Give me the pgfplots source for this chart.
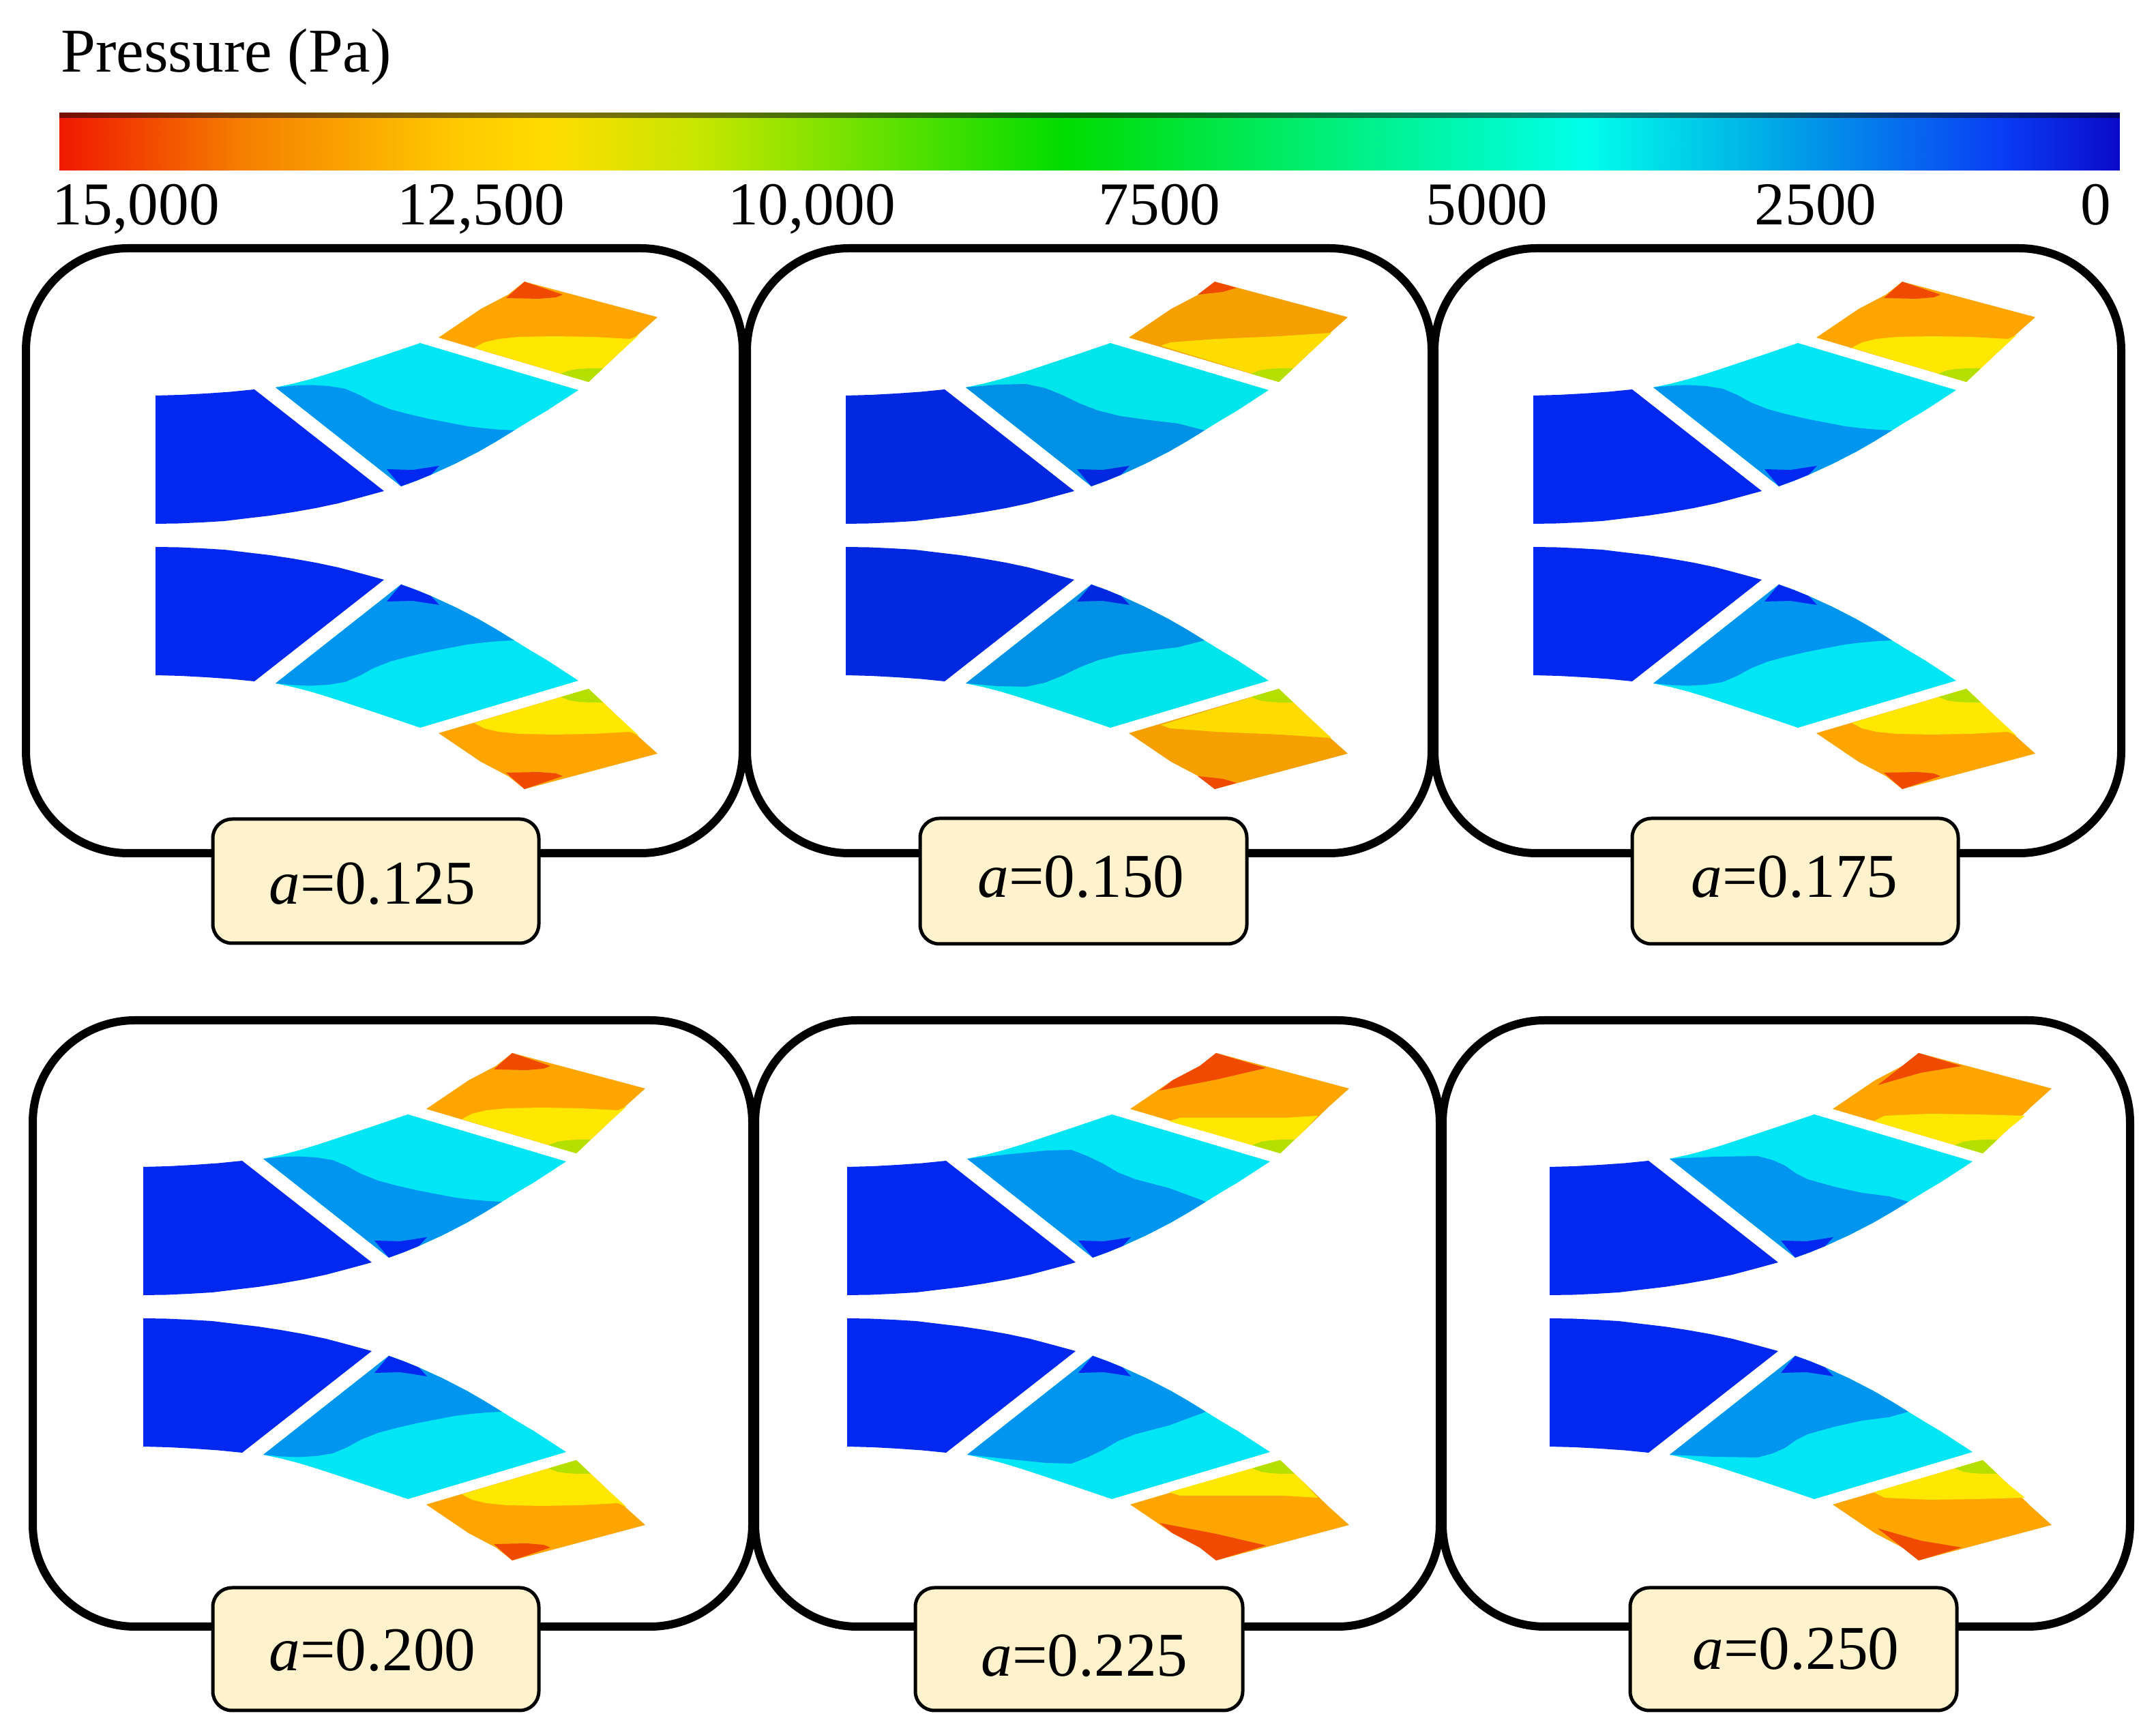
\documentclass[border=0pt]{standalone}
\usepackage{pgfplots}
\usepackage{pgfplotstable}
\usepackage{fontspec}
\setmainfont{Liberation Serif}
\pgfplotsset{compat=1.18}

\definecolor{cblueA}{RGB}{0,40,240}
\definecolor{cmidA}{RGB}{0,150,240}
\definecolor{ccyanA}{RGB}{0,230,245}
\definecolor{corangeA}{RGB}{255,165,0}
\definecolor{cyellowA}{RGB}{255,232,0}
\definecolor{cblueB}{RGB}{0,40,224}
\definecolor{cmidB}{RGB}{0,144,230}
\definecolor{ccyanB}{RGB}{0,229,235}
\definecolor{corangeB}{RGB}{245,160,0}
\definecolor{cyellowB}{RGB}{255,220,0}
\colorlet{cblueC}{cblueA}\colorlet{cmidC}{cmidA}\colorlet{ccyanC}{ccyanA}\colorlet{corangeC}{corangeA}\colorlet{cyellowC}{cyellowA}
\colorlet{cblueD}{cblueA}\colorlet{cmidD}{cmidA}\colorlet{ccyanD}{ccyanA}\colorlet{corangeD}{corangeA}\colorlet{cyellowD}{cyellowA}
\definecolor{cgreen}{RGB}{180,224,0}
\definecolor{cred}{RGB}{240,74,0}
\definecolor{lab}{RGB}{255,242,204}

% outline of the top half of a panel, in image pixels
\pgfplotstableread{
x y
228 580
265 579
302 577
338 574.5
373 571
563 720
530 729
496 738
463 745
429 751
396 756
362 760
329 764
295 766
262 767.5
228 768
}\tblInlet
\pgfplotstableread{
x y
404 568
430 562.5
455 556
480 548.5
506 540
533 531
560 522
588 512.5
616 503
848 572
825 587
802 602
775 618
754 631
728 647
702 662
667 680
632 696
610 705
588 713
}\tblMidCyan
\pgfplotstableread{
x y
567 688
605 689
644 683
632 696
610 705
588 713
}\tblMidTip
\pgfplotstableread{
x y
643 495
674 474
705 453
745 432
769 413
964 465
935 491
900 525
863 560
}\tblOutOrange
\pgfplotstableread{
x y
822 548
835 543
848 541
865 540
884 540
863 560
}\tblOutGreen

% contours that change from panel to panel
\pgfplotstableread{
x y
404 568
430 565.5
455 564.5
481 566
506 570
527 579
547 590
572 600
598 607
628 614
659 620
685 625
710 628
733 630
754 631
728 647
702 662
667 680
632 696
610 705
588 713
}\tblMidBlueA
\pgfplotstableread{
x y
404 568
450 564
492 563
520 569
545 579
572 592
598 602
630 610
665 615
715 621
754 631
728 647
702 662
667 680
632 696
610 705
588 713
}\tblMidBlueB
\pgfplotstableread{
x y
404 568
470 561
520 556
557 555
580 564
603 575
625 588
650 598
700 611
754 631
728 647
702 662
667 680
632 696
610 705
588 713
}\tblMidBlueC
\pgfplotstableread{
x y
404 568
470 565
533 564
555 570
573 578
590 590
606 598
645 609
686 618
725 623
754 631
728 647
702 662
667 680
632 696
610 705
588 713
}\tblMidBlueD

\pgfplotstableread{
x y
695 510
710 502
731 497
761 494
812 493
870 494
924 497
937 491
900 525
863 560
}\tblOutYellowA
\pgfplotstableread{
x y
690 507
704 502
771 497
864 493
940 488
900 525
863 560
}\tblOutYellowB
\pgfplotstableread{
x y
700 513
716 508
782 508
868 508
918 505
900 525
863 560
}\tblOutYellowC
\pgfplotstableread{
x y
703 513
719 505
785 502
852 503
925 505
900 525
863 560
}\tblOutYellowD

\pgfplotstableread{
x y
769 413
825 432
815 436
790 438
742 437
}\tblOutRedA
\pgfplotstableread{
x y
769 413
801 422
781 428
744 432
}\tblOutRedB
\pgfplotstableread{
x y
769 413
842 435
769 452
686 468
705 453
745 432
}\tblOutRedC
\pgfplotstableread{
x y
769 413
832 432
772 442
709 460
745 432
}\tblOutRedD

% colour bar stops
\pgfplotstableread{
x y m
87 0 87
357 0 357
663 0 663
806 0 806
1020 0 1020
1561 0 1561
1968 0 1968
2325 0 2325
2611 0 2611
2938 0 2938
3108 0 3108
87 1 87
357 1 357
663 1 663
806 1 806
1020 1 1020
1561 1 1561
1968 1 1968
2325 1 2325
2611 1 2611
2938 1 2938
3108 1 3108
}\tblBar

\newcommand{\segx}[5]{% table, colour, dx, dy, mirror flag
  \addplot[fill=#2,draw=none,forget plot] table[
    x expr=\thisrow{x}+#3,
    y expr=#5*\thisrow{y}+(#5<0?1570:0)+#4] {#1} -- cycle;
}
\newcommand{\seg}[5]{\expandafter\segx\csname #1\endcsname{#2}{#3}{#4}{#5}}
\newcommand{\half}[4]{%
  \seg{tblInlet}{cblue#4}{#1}{#2}{#3}
  \seg{tblMidCyan}{ccyan#4}{#1}{#2}{#3}
  \seg{tblMidBlue#4}{cmid#4}{#1}{#2}{#3}
  \seg{tblMidTip}{cblue#4}{#1}{#2}{#3}
  \seg{tblOutOrange}{corange#4}{#1}{#2}{#3}
  \seg{tblOutYellow#4}{cyellow#4}{#1}{#2}{#3}
  \seg{tblOutGreen}{cgreen}{#1}{#2}{#3}
  \seg{tblOutRed#4}{cred}{#1}{#2}{#3}
}
\newcommand{\panel}[7]{% dx dy, box x0 x1 y0 y1, variant
  \half{#1}{#2}{1}{#7}
  \half{#1}{#2}{-1}{#7}
  \draw[black,line width=0.06cm,rounded corners=0.75cm] (axis cs:#3,#5) rectangle (axis cs:#4,#6);
}
\newcommand{\tagbox}[7]{% x0 x1 y0 y1, text x y, text
  \draw[black,fill=lab,line width=0.025cm,rounded corners=0.14cm]
    (axis cs:#1,#3) rectangle (axis cs:#2,#4);
  \node[font=\fontsize{13}{15}\selectfont] at (axis cs:#5,#6) {\textit{a}=#7};
}

\begin{document}
\begin{tikzpicture}
\path[use as bounding box] (0,0) rectangle (15.805,12.705);
\begin{axis}[
  name=main,
  at={(0,0)},anchor=south west,
  scale only axis,width=15.805cm,height=12.705cm,
  xmin=0,xmax=3161,ymin=0,ymax=2541,y dir=reverse,
  hide axis,clip=false]
\node[anchor=west,inner sep=0pt,font=\fontsize{13}{15}\selectfont] at (axis cs:88,84) {Pressure (Pa)};
\panel{0}{0}{38}{1089}{364}{1251}{A}
\panel{1012}{0}{1095}{2099}{364}{1251}{B}
\panel{2020}{0}{2103}{3110}{364}{1251}{A}
\panel{-18}{1131}{48}{1103}{1496}{2385}{A}
\panel{1014}{1131}{1107}{2111}{1496}{2385}{C}
\panel{2044}{1131}{2115}{3123}{1496}{2385}{D}
\tagbox{312}{790}{1201}{1383}{546}{1296}{0.125}
\tagbox{1349}{1828}{1200}{1384}{1585}{1286}{0.150}
\tagbox{2393}{2871}{1200}{1384}{2631}{1286}{0.175}
\tagbox{312}{790}{2328}{2508}{546}{2420}{0.200}
\tagbox{1342}{1822}{2328}{2508}{1590}{2428}{0.225}
\tagbox{2390}{2869}{2328}{2508}{2633}{2418}{0.250}
\end{axis}
\begin{axis}[
  at={(0.435cm,11.455cm)},anchor=south west,
  scale only axis,width=15.105cm,height=0.425cm,
  xmin=87,xmax=3108,ymin=0,ymax=1,
  axis line style={draw=none},
  ytick=\empty,
  xtick={199,705,1190,1700,2180,2662,3073},
  xticklabels={{15,000},{12,500},{10,000},7500,5000,2500,0},
  major tick length=0pt,
  xticklabel style={font=\fontsize{12.7}{15}\selectfont,inner sep=0pt,yshift=-0.095cm,anchor=north},
  clip=false,
  colormap={pressure}{
    rgb255(87pt)=(240,24,0);
    rgb255(357pt)=(245,127,0);
    rgb255(663pt)=(255,200,0);
    rgb255(806pt)=(255,220,0);
    rgb255(1020pt)=(200,230,0);
    rgb255(1561pt)=(0,220,0);
    rgb255(1968pt)=(0,240,127);
    rgb255(2325pt)=(0,255,235);
    rgb255(2611pt)=(0,165,230);
    rgb255(2938pt)=(10,60,245);
    rgb255(3108pt)=(10,10,200)},
  point meta min=87,point meta max=3108]
\addplot[surf,shader=interp,mesh/rows=2,point meta=explicit] table[x=x,y=y,meta=m] {\tblBar};
\fill[black,opacity=0.5] (axis cs:87,0.91) rectangle (axis cs:3108,1);
\end{axis}
\end{tikzpicture}
\end{document}
